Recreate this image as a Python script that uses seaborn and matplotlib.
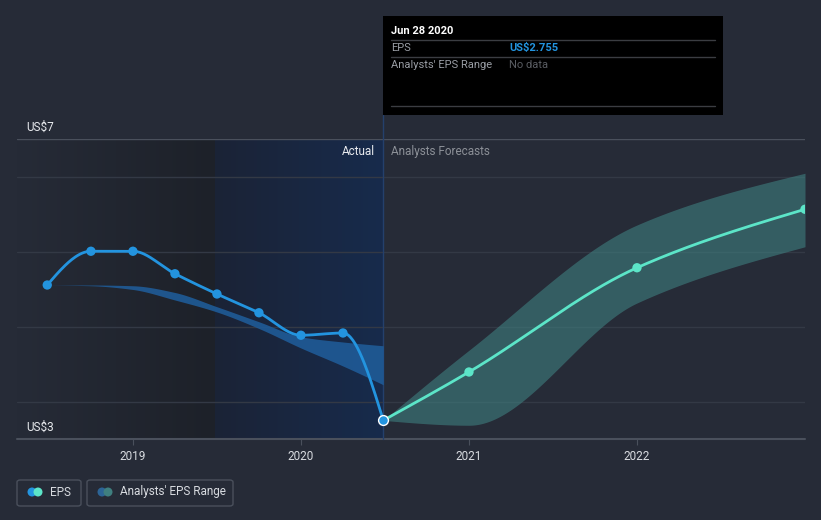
import numpy as np
import pandas as pd
import seaborn as sns
import matplotlib.pyplot as plt
from matplotlib.patches import Rectangle, FancyBboxPatch, Circle
from matplotlib.colors import LinearSegmentedColormap

# EPS history (quarterly, decimal years)
eps_x = [2018.49, 2018.75, 2019.0, 2019.25, 2019.5, 2019.75, 2020.0, 2020.25, 2020.49]
eps_y = [4.56, 5.01, 5.01, 4.71, 4.44, 4.19, 3.89, 3.92, 2.755]
# past analyst band
past_hi = [4.56, 4.56, 4.55, 4.46, 4.27, 4.07, 3.87, 3.80, 3.75]
past_lo = [4.56, 4.55, 4.50, 4.36, 4.20, 3.98, 3.72, 3.48, 3.23]
# forecasts
fc_x = [2020.49, 2021.0, 2022.0, 2023.0]
fc_y = [2.755, 3.40, 4.79, 5.57]
fc_hi = [2.755, 3.69, 5.36, 6.05]
fc_lo = [2.755, 2.69, 4.32, 5.07]
years = [2019, 2020, 2021, 2022]

BG = '#262b37'
TODAY = 2020.49


def monotone(x, y, n=300):
    # monotone cubic (like d3 curveMonotoneX)
    x = np.asarray(x, float); y = np.asarray(y, float)
    h = np.diff(x); d = np.diff(y) / h
    m = np.zeros_like(y)
    for k in range(1, len(x) - 1):
        if d[k - 1] * d[k] > 0:
            w1 = 2 * h[k] + h[k - 1]; w2 = h[k] + 2 * h[k - 1]
            m[k] = (w1 + w2) / (w1 / d[k - 1] + w2 / d[k])
    m[0] = (3 * d[0] - m[1]) / 2
    m[-1] = (3 * d[-1] - m[-2]) / 2
    xs = np.linspace(x[0], x[-1], n)
    idx = np.clip(np.searchsorted(x, xs) - 1, 0, len(x) - 2)
    t = (xs - x[idx]) / h[idx]
    h00 = 2 * t**3 - 3 * t**2 + 1; h10 = t**3 - 2 * t**2 + t
    h01 = -2 * t**3 + 3 * t**2; h11 = t**3 - t**2
    ys = h00 * y[idx] + h10 * h[idx] * m[idx] + h01 * y[idx + 1] + h11 * h[idx] * m[idx + 1]
    return xs, ys


sns.set_style('dark')
plt.rcParams['font.family'] = ['Roboto', 'DejaVu Sans']

fig = plt.figure(figsize=(8.21, 5.2), dpi=100, facecolor=BG)
ax = fig.add_axes([17 / 821, 81 / 520, 788 / 821, 300 / 520])
ax.set_facecolor(BG)
X0, X1 = 2018.31, 2023.0
Y0, Y1 = 3 - 37 / 75, 3 + 263 / 75

# shaded backgrounds
g1 = LinearSegmentedColormap.from_list('g1', [BG, '#1d2129'])
g2 = LinearSegmentedColormap.from_list('g2', ['#1b2336', '#172b4c'])
grad = np.linspace(0, 1, 256).reshape(1, -1)
ax.imshow(grad, cmap=g1, aspect='auto', extent=(X0, TODAY - 1, Y0, Y1), zorder=0)
ax.imshow(grad, cmap=g2, aspect='auto', extent=(TODAY - 1, TODAY, Y0, Y1), zorder=0)
ax.set_xlim(X0, X1)
ax.set_ylim(Y0, Y1)

for v in [3, 4, 5, 6]:
    ax.axhline(v, color='#333945', lw=1, zorder=1)
ax.axhline(Y1, color='#4a505c', lw=1, zorder=1)

for s in ax.spines.values():
    s.set_visible(False)
ax.axhline(Y0, color='#4a505c', lw=1.5, zorder=2, clip_on=False)

ax.axvline(TODAY, ymin=0, ymax=(439 - 115) / 300, color='#24406c', lw=1, zorder=2, clip_on=False)

# bands
px, phi = monotone(eps_x, past_hi)
_, plo = monotone(eps_x, past_lo)
ax.fill_between(px, plo, phi, color='#1f5b97', alpha=0.9, lw=0, zorder=2)
fx, fhi = monotone(fc_x, fc_hi)
_, flo = monotone(fc_x, fc_lo)
ax.fill_between(fx, flo, fhi, color='#3f8080', alpha=0.6, lw=0, zorder=2)

# lines
ex, ey = monotone(eps_x, eps_y)
sns.lineplot(x=ex, y=ey, ax=ax, color='#2394df', lw=2, zorder=3)
sns.scatterplot(x=eps_x[:-1], y=eps_y[:-1], ax=ax, color='#2394df', s=45, edgecolor='none', zorder=4)
gx, gy = monotone(fc_x, fc_y)
sns.lineplot(x=gx, y=gy, ax=ax, color='#5ce5c8', lw=2, zorder=3)
sns.scatterplot(x=fc_x[1:], y=fc_y[1:], ax=ax, color='#5ce5c8', s=45, edgecolor='none', zorder=4)
ax.scatter([eps_x[-1]], [eps_y[-1]], s=50, color='#2394df', edgecolor='white', linewidth=1, zorder=5)

ax.set_xticks(years)
ax.set_xticklabels([str(y) for y in years], color='#d8dbe0', fontsize=8.5)
ax.tick_params(axis='x', length=4, color='#4a505c', pad=4, bottom=True)
ax.set_yticks([])
ax.set_xlabel('')
ax.set_ylabel('')
ax.grid(False)


def fx_(x):
    return x / 821


def fy_(y):
    return 1 - y / 520


fig.text(fx_(26), fy_(127), 'US$7', color='#e8eaee', fontsize=8.5, va='center')
fig.text(fx_(26), fy_(427), 'US$3', color='#e8eaee', fontsize=8.5, va='center')
fig.text(fx_(375), fy_(151), 'Actual', color='#e8eaee', fontsize=8.5, va='center', ha='right')
fig.text(fx_(391), fy_(151), 'Analysts Forecasts', color='#8c9097', fontsize=8.5, va='center')

# tooltip
fig.patches.append(Rectangle((fx_(383), fy_(115)), 340 / 821, 99 / 520, transform=fig.transFigure,
                             facecolor='black', edgecolor='none', zorder=10))
for yy in [40, 57, 106]:
    fig.lines.append(plt.Line2D([fx_(391), fx_(715)], [fy_(yy), fy_(yy)], transform=fig.transFigure,
                                color='#3b3d42', lw=1, zorder=11))
fig.text(fx_(391), fy_(31), 'Jun 28 2020', color='white', fontsize=8, weight='bold', va='center', zorder=12)
fig.text(fx_(391), fy_(48), 'EPS', color='#9a9ea5', fontsize=8, va='center', zorder=12)
fig.text(fx_(509), fy_(48), 'US$2.755', color='#2394df', fontsize=8, weight='bold', va='center', zorder=12)
fig.text(fx_(391), fy_(65), "Analysts' EPS Range", color='#9a9ea5', fontsize=8, va='center', zorder=12)
fig.text(fx_(509), fy_(65), 'No data', color='#5a5d63', fontsize=8, va='center', zorder=12)

# legend
for x0, w in [(17, 64), (87, 146)]:
    fig.patches.append(FancyBboxPatch((fx_(x0), fy_(506)), w / 821, 26 / 520, transform=fig.transFigure,
                                      boxstyle='round,pad=0,rounding_size=0.004', facecolor='none',
                                      edgecolor='#4a505c', lw=1))
r = 4.5
for cx, col in [(32, '#2394df'), (38, '#5ce5c8'), (102, '#2c6496'), (108, '#3f7f7f')]:
    fig.patches.append(Circle((cx, 520 - 492), r, transform=None, facecolor=col, edgecolor='none'))
fig.text(fx_(50), fy_(492), 'EPS', color='#d8dbe0', fontsize=8.5, va='center')
fig.text(fx_(120), fy_(492), "Analysts' EPS Range", color='#d8dbe0', fontsize=8.5, va='center')

fig.savefig('out.png', dpi=100, facecolor=BG)
